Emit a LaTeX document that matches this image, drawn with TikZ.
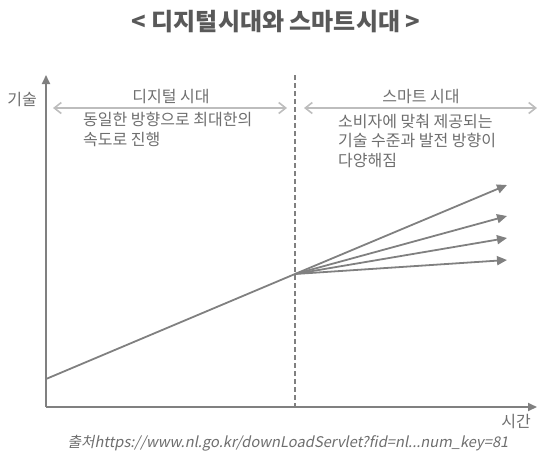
\documentclass[tikz,border=0pt]{standalone}
\usepackage{fontspec}
\setmainfont{Noto Sans CJK KR}
\newfontfamily\srcfont[FakeSlant=0.2]{Noto Sans CJK KR}
\usetikzlibrary{arrows.meta}
\definecolor{linegray}{HTML}{808080}
\definecolor{spangray}{HTML}{BDBDBD}
\definecolor{textgray}{HTML}{6E6E6E}
\definecolor{titlegray}{HTML}{595959}
\tikzset{
  axis/.style={line width=2pt,linegray,-{Triangle[length=9pt,width=8pt]}},
  trend/.style={line width=1.8pt,linegray,-{Triangle[length=10pt,width=9pt]}},
  span/.style={line width=1.6pt,spangray,{Straight Barb[length=7pt,width=11pt]}-{Straight Barb[length=7pt,width=11pt]}},
  label/.style={text=textgray,font=\fontsize{16}{19.5}\selectfont,inner sep=0pt},
}
\begin{document}
\begin{tikzpicture}[x=1pt,y=-1pt]
\useasboundingbox (0,0) rectangle (538,458);
% axes
\coordinate (O) at (46,407);
\coordinate (ytop) at (46,75);
\coordinate (xend) at (537,407);
\draw[axis] (O) -- (ytop);
\draw[axis] (O) -- (xend);
% border between the two eras
\coordinate (dtop) at (295,75);
\coordinate (dbot) at (295,407);
\draw[linegray,line width=1.5pt,dash pattern=on 5pt off 3pt] (dtop) -- (dbot);
% era spans
\coordinate (l1) at (53,108);
\coordinate (l2) at (287,108);
\coordinate (r1) at (304,108);
\coordinate (r2) at (537,108);
\draw[span] (l1) -- (l2);
\draw[span] (r1) -- (r2);
% growth lines
\coordinate (start) at (46,379);
\coordinate (turn) at (295,274);
\draw[line width=1.8pt,linegray] (start) -- (turn);
\foreach \y [count=\i] in {185,216,238,260}{
  \coordinate (e\i) at (507,\y);
  \draw[trend] (turn) -- (e\i);
}
% texts
\node (title) at (276,22) {\fontsize{24}{27}\selectfont\bfseries\color{titlegray}< 디지털시대와 스마트시대 >};
\node[label] (ylab) at (22,100) {기술};
\node[label] (xlab) at (516,422) {시간};
\node[label] (digital) at (171,97) {디지털 시대};
\node[label] (smart) at (421,97) {스마트 시대};
\node[label,anchor=north west,align=left] (dtext) at (83,112) {동일한 방향으로 최대한의\\속도로 진행};
\node[label,anchor=north west,align=left] (stext) at (338,114) {소비자에 맞춰 제공되는\\기술 수준과 발전 방향이\\다양해짐};
\node[label] (source) at (288,443) {\fontsize{14.7}{18}\selectfont\srcfont 출처https://www.nl.go.kr/downLoadServlet?fid=nl...num\_key=81};
\end{tikzpicture}
\end{document}
